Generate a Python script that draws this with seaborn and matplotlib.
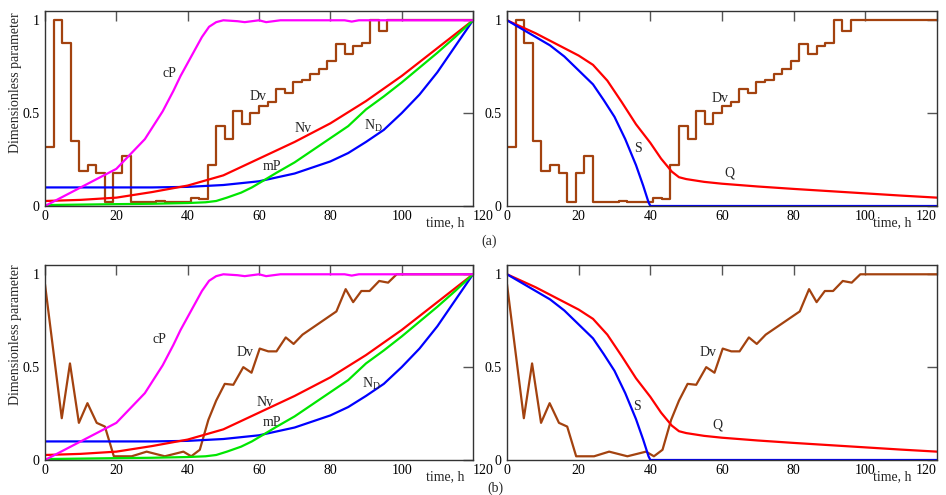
import matplotlib
matplotlib.use("Agg")
import matplotlib.pyplot as plt
import seaborn as sns
import numpy as np

# ---- data ----
# Dv, case (a): piecewise constant on 2.4 h steps
dv_a_step = 2.4
dv_a = [0.32, 1.0, 0.88, 0.35, 0.19, 0.22, 0.18, 0.02, 0.18, 0.27,
        0.02, 0.02, 0.02, 0.025, 0.02, 0.02, 0.02, 0.045, 0.04, 0.22,
        0.43, 0.36, 0.51, 0.44, 0.50, 0.54, 0.56, 0.63, 0.61, 0.67,
        0.68, 0.71, 0.74, 0.78, 0.87, 0.82, 0.86, 0.88, 1.0, 0.94,
        1.0, 1.0, 1.0, 1.0, 1.0, 1.0, 1.0, 1.0, 1.0, 1.0]

# Dv, case (b): polyline
dv_b_t = [0, 4.7, 7, 9.5, 11.9, 14.5, 16.8, 19.3, 24.3, 28.5, 33.6, 38.8, 41,
          43.4, 45.8, 48, 50.4, 52.8, 55.6, 57.9, 60.2, 62.6, 64.9, 67.5, 69.7,
          72.2, 81.7, 84.3, 86.4, 88.7, 91, 93.7, 96.2, 98.6, 120]
dv_b = [0.946, 0.225, 0.52, 0.2, 0.306, 0.2, 0.18, 0.02, 0.02, 0.045, 0.02,
        0.045, 0.02, 0.055, 0.216, 0.32, 0.41, 0.405, 0.5, 0.47, 0.6, 0.585,
        0.585, 0.66, 0.625, 0.675, 0.8, 0.92, 0.85, 0.91, 0.91, 0.964, 0.955,
        1.0, 1.0]

cp_t = [0, 5, 10, 15, 20, 25, 28, 30, 33, 36, 38, 40, 42, 44, 46, 48, 50,
        54, 56, 60, 62, 66, 84, 86, 88, 120]
cp = [0, 0.05, 0.1, 0.15, 0.2, 0.3, 0.36, 0.42, 0.51, 0.62, 0.7, 0.77, 0.84,
      0.91, 0.965, 0.99, 1.0, 0.995, 0.99, 1.0, 0.99, 1.0, 1.0, 0.993, 1.0, 1.0]

nv_t = [0, 10, 20, 30, 40, 50, 60, 70, 80, 90, 100, 110, 120]
nv = [0.027, 0.033, 0.045, 0.075, 0.11, 0.165, 0.255, 0.345, 0.445, 0.565,
      0.70, 0.85, 1.0]

mp_t = [0, 20, 30, 40, 45, 48, 51, 55, 58, 61, 65, 70, 75, 80, 85, 90, 95,
        100, 105, 110, 115, 120]
mp = [0.005, 0.01, 0.012, 0.016, 0.02, 0.027, 0.045, 0.072, 0.1, 0.134, 0.18,
      0.235, 0.3, 0.365, 0.43, 0.52, 0.59, 0.665, 0.745, 0.825, 0.91, 1.0]

nd_t = [0, 30, 40, 50, 60, 70, 80, 85, 90, 95, 100, 105, 110, 115, 120]
nd = [0.1, 0.1, 0.103, 0.113, 0.133, 0.175, 0.24, 0.285, 0.345, 0.41, 0.5,
      0.6, 0.72, 0.86, 1.0]

s_t = [0, 4, 8, 12, 16, 20, 24, 27, 30, 33, 36, 38, 39.5, 40, 120]
s = [1.0, 0.955, 0.91, 0.865, 0.805, 0.73, 0.655, 0.57, 0.48, 0.36, 0.22,
     0.11, 0.02, 0.0, 0.0]

q_t = [0, 4, 8, 12, 16, 20, 24, 28, 32, 36, 40, 43, 46, 48, 50, 55, 60, 70,
       80, 90, 100, 110, 120]
q = [1.0, 0.965, 0.93, 0.89, 0.85, 0.81, 0.76, 0.675, 0.56, 0.44, 0.34, 0.255,
     0.185, 0.155, 0.145, 0.13, 0.12, 0.105, 0.092, 0.08, 0.068, 0.056, 0.045]

x_ticks = [0, 20, 40, 60, 80, 100, 120]
y_ticks = [0, 0.5, 1]
y_ticklabels = ["0", "0.5", "1"]

C_DV = "#A3420F"
C_CP = "#FF00FF"
C_NV = "#FF0000"
C_MP = "#00E600"
C_ND = "#0000FF"

sns.set_theme(style="white")
plt.rcParams["font.family"] = ["Liberation Serif", "DejaVu Serif"]
plt.rcParams["mathtext.fontset"] = "custom"
plt.rcParams["mathtext.rm"] = "Liberation Serif"
plt.rcParams["mathtext.it"] = "Liberation Serif:italic"

fig = plt.figure(figsize=(9.46, 4.95), dpi=100)
W, H = 946, 495


def make_ax(x0, x1, ytop, ybot):
    return fig.add_axes([x0 / W, 1 - ybot / H, (x1 - x0) / W, (ybot - ytop) / H])


ax_tl = make_ax(45, 473, 11, 206)
ax_tr = make_ax(507, 937, 11, 206)
ax_bl = make_ax(45, 473, 265, 460)
ax_br = make_ax(507, 937, 265, 460)

dv_a_t = list(np.arange(len(dv_a)) * dv_a_step) + [120]
dv_a_full = dv_a + [dv_a[-1]]
lw = 1.6


def style(ax, left):
    ax.set_xlim(0, 120)
    ax.set_ylim(0, 1.05)
    ax.set_xticks(x_ticks)
    ax.set_xticklabels([str(v) for v in x_ticks])
    ax.set_yticks(y_ticks)
    ax.set_yticklabels(y_ticklabels)
    ax.tick_params(direction="in", length=7, width=1, color="#555555",
                   top=True, right=True, labelsize=10, pad=4,
                   labelcolor="black")
    ax.tick_params(axis="x", pad=3)
    for sp in ax.spines.values():
        sp.set_color("#333333")
        sp.set_linewidth(1)
    ax.set_xlabel("")
    ax.set_ylabel("")
    ax.grid(False)
    last = ax.get_xticklabels()[-1]
    if left:
        last.set_horizontalalignment("left")
    else:
        last.set_horizontalalignment("right")
    ax.text(0.935 if left else 0.895, -0.085, "time, h", transform=ax.transAxes,
            ha="center", va="center", fontsize=10)


def draw_dv(ax, case_a):
    if case_a:
        sns.lineplot(x=dv_a_t, y=dv_a_full, ax=ax, color=C_DV, linewidth=lw,
                     drawstyle="steps-post")
    else:
        sns.lineplot(x=dv_b_t, y=dv_b, ax=ax, color=C_DV, linewidth=lw)


def draw_left(ax, case_a):
    draw_dv(ax, case_a)
    sns.lineplot(x=nd_t, y=nd, ax=ax, color=C_ND, linewidth=lw)
    sns.lineplot(x=nv_t, y=nv, ax=ax, color=C_NV, linewidth=lw)
    sns.lineplot(x=mp_t, y=mp, ax=ax, color=C_MP, linewidth=lw)
    sns.lineplot(x=cp_t, y=cp, ax=ax, color=C_CP, linewidth=lw)
    style(ax, True)


def draw_right(ax, case_a):
    draw_dv(ax, case_a)
    sns.lineplot(x=q_t, y=q, ax=ax, color=C_NV, linewidth=lw)
    sns.lineplot(x=s_t, y=s, ax=ax, color=C_ND, linewidth=lw)
    style(ax, False)


draw_left(ax_tl, True)
draw_right(ax_tr, True)
draw_left(ax_bl, False)
draw_right(ax_br, False)

fs = 10
# curve labels, case (a)
ax_tl.text(35, 0.715, "cP", fontsize=fs, ha="center", va="center")
ax_tl.text(59.7, 0.59, "Dv", fontsize=fs, ha="center", va="center")
ax_tl.text(72.3, 0.42, "Nv", fontsize=fs, ha="center", va="center")
ax_tl.text(92, 0.43, "N$_\\mathrm{D}$", fontsize=fs, ha="center", va="center")
ax_tl.text(63.6, 0.21, "mP", fontsize=fs, ha="center", va="center")
ax_tr.text(36.6, 0.31, "S", fontsize=fs, ha="center", va="center")
ax_tr.text(62.2, 0.177, "Q", fontsize=fs, ha="center", va="center")
ax_tr.text(59.4, 0.58, "Dv", fontsize=fs, ha="center", va="center")
# curve labels, case (b)
ax_bl.text(32.2, 0.65, "cP", fontsize=fs, ha="center", va="center")
ax_bl.text(56, 0.58, "Dv", fontsize=fs, ha="center", va="center")
ax_bl.text(61.7, 0.31, "Nv", fontsize=fs, ha="center", va="center")
ax_bl.text(91.6, 0.41, "N$_\\mathrm{D}$", fontsize=fs, ha="center", va="center")
ax_bl.text(63.6, 0.2, "mP", fontsize=fs, ha="center", va="center")
ax_br.text(36.3, 0.29, "S", fontsize=fs, ha="center", va="center")
ax_br.text(58.6, 0.19, "Q", fontsize=fs, ha="center", va="center")
ax_br.text(56, 0.58, "Dv", fontsize=fs, ha="center", va="center")

fig.text(16 / W, 1 - 83 / H, "Dimensionless parameter", rotation=90,
         ha="center", va="center", fontsize=10)
fig.text(16 / W, 1 - 335 / H, "Dimensionless parameter", rotation=90,
         ha="center", va="center", fontsize=10)
fig.text(489 / W, 1 - 241 / H, "(a)", ha="center", va="center", fontsize=10)
fig.text(495 / W, 1 - 488 / H, "(b)", ha="center", va="center", fontsize=10)

fig.savefig("out.png", dpi=100, facecolor="white")
plt.close(fig)
